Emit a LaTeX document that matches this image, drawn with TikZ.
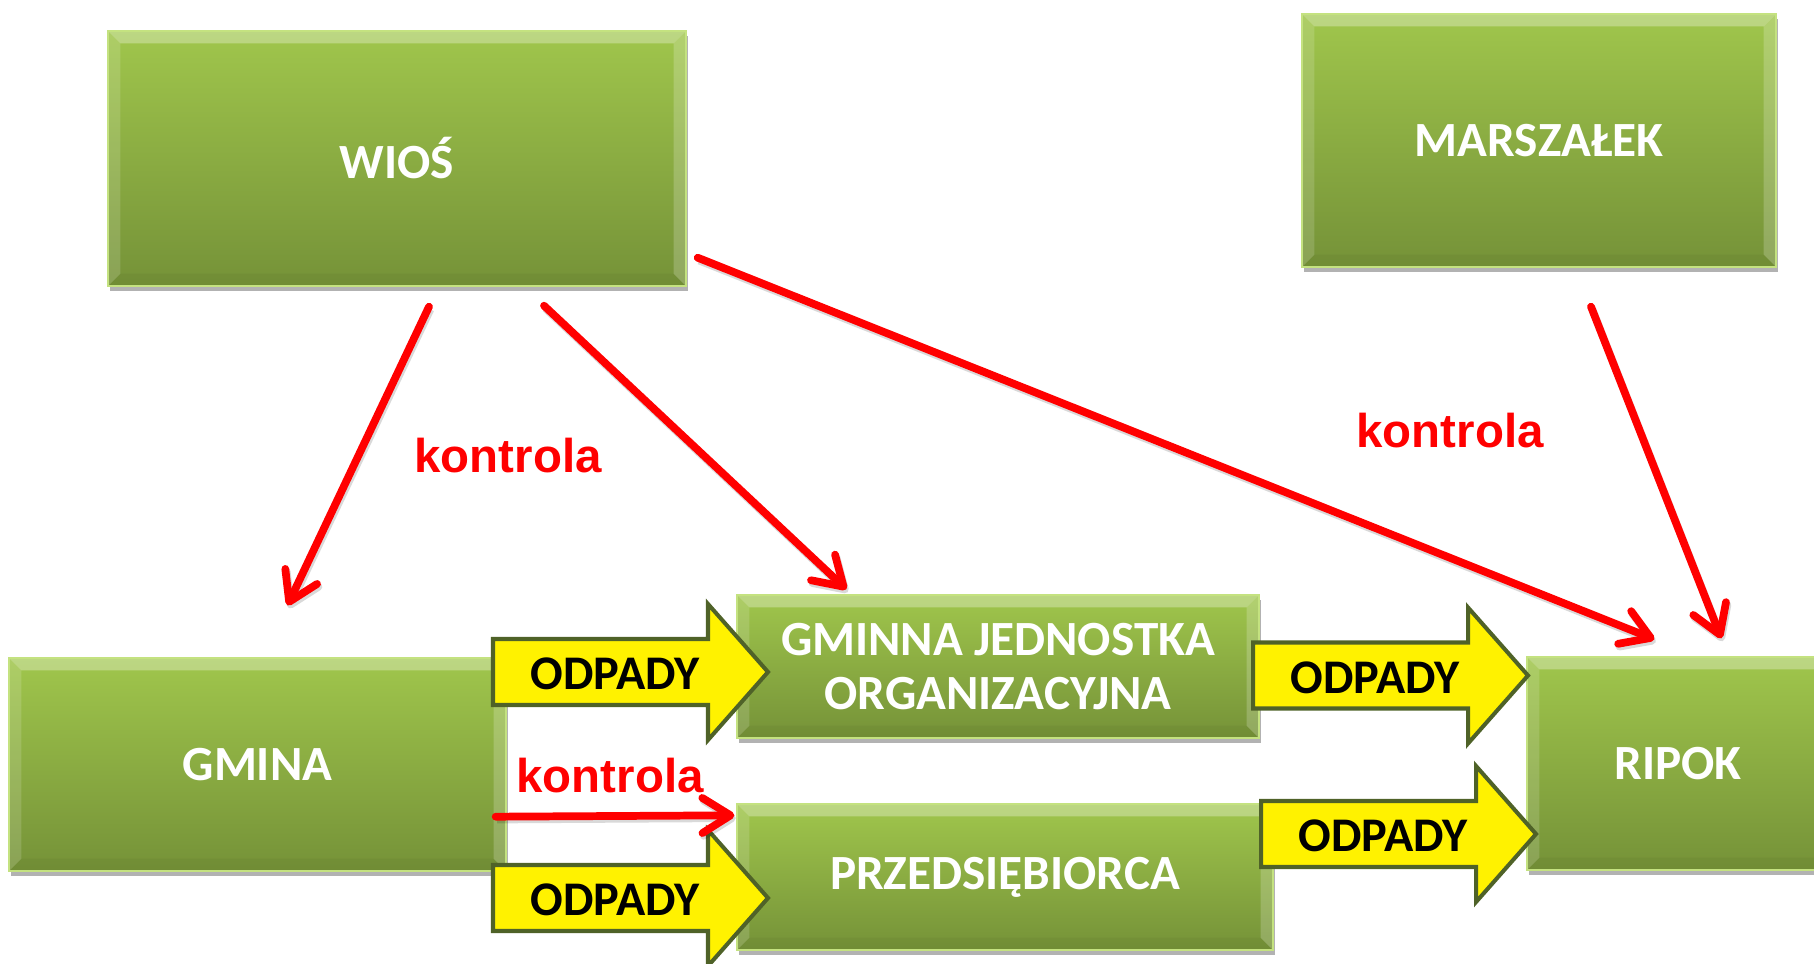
\documentclass[tikz,border=0pt]{standalone}
\usepackage{fontspec}
\setmainfont{Carlito}
\newfontfamily\arialfont{Liberation Sans}
\usetikzlibrary{calc,arrows.meta,shadows}

\definecolor{boxTop}{RGB}{160,198,76}
\definecolor{boxBottom}{RGB}{117,146,56}
\definecolor{boxEdge}{RGB}{196,226,128}
\definecolor{odpEdge}{RGB}{79,98,40}

% block arrow: name, tail x, middle y
\newcommand{\odpady}[3]{%
  \draw[odpArrow] (#2,#3) ++(0,-33) -- ++(215,0) -- ++(0,-35) -- ++(60,68)
    -- ++(-60,68) -- ++(0,-35) -- ++(-215,0) -- cycle;
  \node[odpText] (#1) at (#2+122,#3+2) {ODPADY};
}

\begin{document}
\begin{tikzpicture}[x=0.02cm,y=-0.02cm,
  box/.style={rectangle, inner sep=0pt, draw=boxEdge, line width=0.8pt,
    top color=boxTop, bottom color=boxBottom, text=white, align=center,
    font=\bfseries\fontsize{28}{34}\selectfont,
    drop shadow={shadow xshift=1pt, shadow yshift=-3pt, opacity=0.3, fill=black},
    path picture={
      \fill[white,opacity=0.3] (path picture bounding box.north west) -- (path picture bounding box.north east)
        -- ([shift={(-\bevSize,-\bevSize)}]path picture bounding box.north east) -- ([shift={(\bevSize,-\bevSize)}]path picture bounding box.north west) -- cycle;
      \fill[white,opacity=0.15] (path picture bounding box.north west) -- ([shift={(\bevSize,-\bevSize)}]path picture bounding box.north west)
        -- ([shift={(\bevSize,\bevSize)}]path picture bounding box.south west) -- (path picture bounding box.south west) -- cycle;
      \fill[white,opacity=0.2] (path picture bounding box.north east) -- ([shift={(-\bevSize,-\bevSize)}]path picture bounding box.north east)
        -- ([shift={(-\bevSize,\bevSize)}]path picture bounding box.south east) -- (path picture bounding box.south east) -- cycle;
      \fill[black,opacity=0.04] (path picture bounding box.south west) -- ([shift={(\bevSize,\bevSize)}]path picture bounding box.south west)
        -- ([shift={(-\bevSize,\bevSize)}]path picture bounding box.south east) -- (path picture bounding box.south east) -- cycle;
    }},
  odpArrow/.style={draw=odpEdge, fill=yellow, line width=2.3pt, line join=miter},
  odpText/.style={inner sep=0pt, text=black, font=\bfseries\fontsize{27.5}{32}\selectfont},
  kontrola/.style={draw=red, line width=4.4pt, line cap=round,
    preaction={draw=black, opacity=0.15, line width=4.4pt, transform canvas={xshift=0.8pt,yshift=-1.6pt}},
    -{Straight Barb[length=16pt,width=20pt,line cap=round,line join=round]}},
  kontrolaText/.style={inner sep=0pt, text=red, font=\arialfont\bfseries\fontsize{27}{30}\selectfont}]

\def\bevSize{7pt}
\useasboundingbox (0,0) rectangle (1814,963);

\node[box, minimum width=11.56cm, minimum height=5.10cm] (wios) at (397,158.5) {WIOŚ};
\node[box, minimum width=9.48cm, minimum height=5.06cm] (marsz) at (1539,140.5) {MARSZAŁEK};
\node[box, minimum width=9.94cm, minimum height=4.26cm] (gmina) at (257.5,764.5) {GMINA};
\node[box, minimum width=10.44cm, minimum height=2.86cm,
  font=\bfseries\fontsize{28}{31}\selectfont] (gjo) at (998,666.5) {GMINNA JEDNOSTKA\\ORGANIZACYJNA};
\node[box, minimum width=10.72cm, minimum height=2.92cm] (prz) at (1005,877) {PRZEDSIĘBIORCA};
\node[box, minimum width=6.04cm, minimum height=4.26cm] (ripok) at (1678,763.5) {RIPOK};

\odpady{odpA}{493}{672}
\odpady{odpB}{493}{898}
\odpady{odpC}{1253}{675.5}
\odpady{odpD}{1261}{834}

\coordinate (w1) at ($(wios.south)+(32,20)$);
\coordinate (g1) at ($(gmina.north)+(30,-52)$);
\coordinate (w2) at ($(wios.south)+(147,19)$);
\coordinate (j1) at ($(gjo.north west)+(110,-5)$);
\coordinate (w3) at ($(wios.south east)+(11,-29)$);
\coordinate (r1) at ($(ripok.north west)+(128,-17)$);
\coordinate (m1) at ($(marsz.south)+(52,39)$);
\coordinate (r2) at ($(ripok.north west)+(195,-18)$);
\coordinate (g2) at ($(gmina.south east)+(-11,-55)$);
\coordinate (p1) at ($(prz.north west)+(-2,12)$);

\draw[kontrola] (w1) -- (g1);
\draw[kontrola] (w2) -- (j1);
\draw[kontrola] (w3) -- (r1);
\draw[kontrola] (m1) -- (r2);
\draw[kontrola] (g2) -- (p1);

\node[kontrolaText] (k1) at (508,456) {kontrola};
\node[kontrolaText] (k2) at (1450,431) {kontrola};
\node[kontrolaText] (k3) at (610,776) {kontrola};

\end{tikzpicture}
\end{document}
